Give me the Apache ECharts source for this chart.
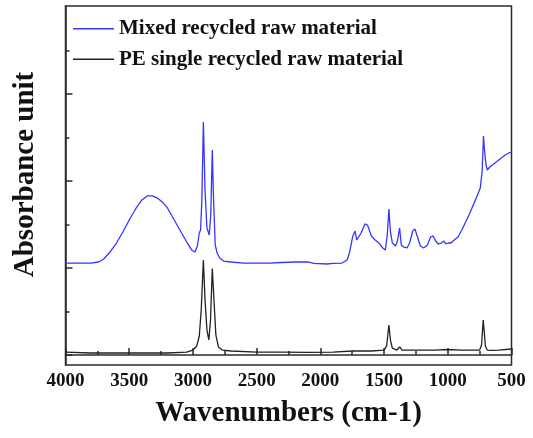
<!DOCTYPE html>
<html>
<head>
<meta charset="utf-8">
<script src="https://cdn.jsdelivr.net/npm/echarts@6/dist/echarts.min.js"></script>
<style>
  html, body { margin: 0; padding: 0; background: #fff; }
  #chart { width: 533px; height: 438px; }
</style>
</head>
<body>
<div id="chart"></div>
<script>
// wavenumber ticks (cm-1)
const xTicks = [4000, 3500, 3000, 2500, 2000, 1500, 1000, 500];

// Mixed recycled raw material (blue)
const mixedWn = [4000, 3900, 3800, 3740, 3700, 3650, 3600, 3550, 3500, 3450, 3400, 3360, 3320, 3280, 3240, 3200, 3160, 3120, 3080, 3040, 3010, 2985, 2965, 2950, 2940, 2930, 2918, 2905, 2890, 2872, 2860, 2848, 2838, 2825, 2810, 2790, 2760, 2700, 2600, 2500, 2400, 2300, 2200, 2100, 2050, 1950, 1900, 1830, 1790, 1770, 1745, 1728, 1715, 1700, 1680, 1650, 1630, 1600, 1570, 1540, 1510, 1490, 1475, 1462, 1450, 1435, 1410, 1395, 1378, 1365, 1345, 1320, 1300, 1275, 1258, 1240, 1215, 1190, 1160, 1135, 1115, 1095, 1075, 1050, 1030, 1015, 995, 975, 950, 920, 890, 860, 830, 800, 770, 745, 730, 720, 712, 700, 690, 670, 640, 610, 580, 550, 520, 500];
const mixedAbs = [1.057, 1.057, 1.057, 1.069, 1.103, 1.184, 1.287, 1.414, 1.552, 1.678, 1.782, 1.828, 1.828, 1.805, 1.759, 1.690, 1.586, 1.483, 1.379, 1.276, 1.207, 1.184, 1.253, 1.402, 1.437, 1.782, 2.678, 1.897, 1.460, 1.379, 1.609, 2.356, 1.782, 1.264, 1.172, 1.115, 1.080, 1.069, 1.057, 1.057, 1.057, 1.063, 1.069, 1.069, 1.052, 1.046, 1.052, 1.057, 1.092, 1.184, 1.368, 1.425, 1.322, 1.310, 1.402, 1.506, 1.494, 1.368, 1.322, 1.287, 1.230, 1.207, 1.379, 1.678, 1.414, 1.287, 1.253, 1.310, 1.460, 1.264, 1.241, 1.230, 1.287, 1.425, 1.448, 1.368, 1.253, 1.230, 1.264, 1.356, 1.368, 1.310, 1.276, 1.287, 1.310, 1.276, 1.287, 1.287, 1.322, 1.356, 1.437, 1.529, 1.621, 1.724, 1.828, 1.920, 2.115, 2.517, 2.356, 2.184, 2.126, 2.161, 2.195, 2.230, 2.264, 2.299, 2.322, 2.333];

// PE single recycled raw material (black)
const peWn = [4000, 3800, 3600, 3400, 3200, 3050, 3000, 2970, 2950, 2935, 2918, 2905, 2890, 2875, 2862, 2848, 2835, 2820, 2800, 2770, 2700, 2500, 2300, 2100, 1900, 1750, 1600, 1500, 1480, 1462, 1450, 1435, 1400, 1377, 1360, 1300, 1200, 1100, 1000, 900, 800, 750, 735, 722, 715, 705, 690, 650, 600, 500];
const peAbs = [0.034, 0.023, 0.023, 0.023, 0.023, 0.034, 0.057, 0.103, 0.218, 0.517, 1.092, 0.632, 0.287, 0.172, 0.402, 0.994, 0.632, 0.230, 0.092, 0.057, 0.046, 0.034, 0.034, 0.029, 0.034, 0.046, 0.046, 0.057, 0.103, 0.345, 0.172, 0.080, 0.057, 0.092, 0.057, 0.057, 0.057, 0.057, 0.063, 0.057, 0.057, 0.057, 0.115, 0.402, 0.287, 0.103, 0.057, 0.052, 0.057, 0.069];

const majorY = [0, 1, 2, 3];
const minorY = [0.5, 1.5, 2.5, 3.5];

const serif = '"Liberation Serif", "Times New Roman", serif';
const axisColor = '#2b2b2b';

const chart = echarts.init(document.getElementById('chart'));

const option = {
    animation: false,
    grid: {
        left: 65.5, right: 21.5, top: 6, bottom: 73,
        show: true, borderColor: axisColor, borderWidth: 1.5
    },
    legend: {
        left: 68, top: 11.7, orient: 'vertical',
        itemWidth: 41, itemHeight: 1.5, itemGap: 6.6,
        icon: 'rect',
        textStyle: { fontFamily: serif, fontWeight: 'bold', fontSize: 21, color: '#111', lineHeight: 24 },
        data: ['Mixed recycled raw material', 'PE single recycled raw material']
    },
    xAxis: {
        type: 'value', inverse: true, min: 500, max: 4000, interval: 500,
        name: 'Wavenumbers (cm-1)', nameLocation: 'middle', nameGap: 34,
        nameTextStyle: { fontFamily: serif, fontWeight: 'bold', fontSize: 29, color: '#111' },
        axisLine: { lineStyle: { color: axisColor, width: 1.5 } },
        axisTick: { inside: true, length: 7, lineStyle: { color: axisColor, width: 1.5 } },
        minorTick: { show: true, splitNumber: 2, length: 4, lineStyle: { color: axisColor, width: 1.5 } },
        axisLabel: { margin: 7, fontFamily: serif, fontWeight: 'bold', fontSize: 19, color: '#111',
                     showMinLabel: true, showMaxLabel: true,
                     formatter: v => xTicks.includes(v) ? String(v) : '' },
        splitLine: { show: false }
    },
    yAxis: [{
        type: 'value', min: -0.115, max: 4.011,
        name: 'Absorbance unit', nameLocation: 'middle', nameGap: 25,
        nameTextStyle: { fontFamily: serif, fontWeight: 'bold', fontSize: 29, color: '#111',
                         padding: [0, 0, 0, 22] },
        axisLine: { show: true, lineStyle: { color: axisColor, width: 1.5 } },
        axisTick: { show: true, inside: true, length: 7, customValues: majorY, lineStyle: { color: axisColor, width: 1.5 } },
        axisLabel: { show: false },
        splitLine: { show: false }
    }, {
        type: 'value', min: -0.115, max: 4.011, position: 'left',
        axisLine: { show: false },
        axisTick: { show: true, inside: true, length: 4, customValues: minorY, lineStyle: { color: axisColor, width: 1.5 } },
        axisLabel: { show: false },
        splitLine: { show: false }
    }],
    series: [{
        name: 'Mixed recycled raw material', type: 'line', yAxisIndex: 0,
        showSymbol: false, symbol: 'none',
        lineStyle: { color: '#3535ff', width: 1.3 }, itemStyle: { color: '#3535ff' },
        data: mixedWn.map((w, i) => [w, mixedAbs[i]])
    }, {
        name: 'PE single recycled raw material', type: 'line', yAxisIndex: 0,
        showSymbol: false, symbol: 'none',
        lineStyle: { color: '#222', width: 1.3 }, itemStyle: { color: '#222' },
        data: peWn.map((w, i) => [w, peAbs[i]])
    }]
};

chart.setOption(option);
window.onresize = () => chart.resize();
</script>
</body>
</html>
